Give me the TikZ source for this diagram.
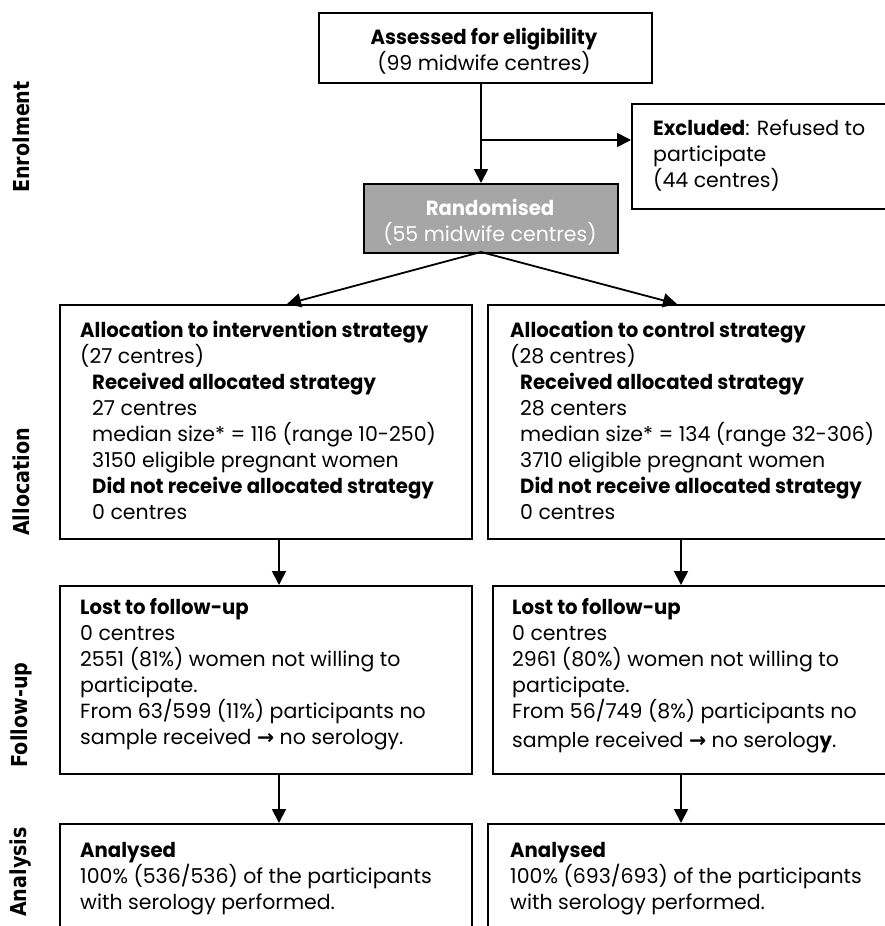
\documentclass[tikz,border=0pt]{standalone}
\usepackage{fontspec}
\setmainfont{Poppins}[BoldFeatures={FakeStretch=0.96}]
\newfontfamily\sidefont{DejaVu Sans}[FakeStretch=0.87]
\newfontfamily\symfont{DejaVu Sans}
\usetikzlibrary{arrows.meta}
\definecolor{randgray}{HTML}{A6A6A6}
\newcommand{\fstrut}{\rule{0pt}{18pt}}
\tikzset{
  boxline/.style={draw=black, line width=1.8pt, anchor=north west, inner sep=0pt},
  txt/.style={anchor=north west, inner sep=0pt, align=left, font=\fontsize{20.5}{26}\selectfont},
  ctxt/.style={anchor=north, inner sep=0pt, align=center, font=\fontsize{20.5}{26}\selectfont},
  arr/.style={line width=1.8pt, -{Triangle[length=14pt,width=14pt]}},
  side/.style={rotate=90, inner sep=0pt, font=\sidefont\bfseries\fontsize{22}{24}\selectfont}
}
\begin{document}
\begin{tikzpicture}[x=1pt,y=-1pt]
\useasboundingbox (0,0) rectangle (885,926);
\clip (0,0) rectangle (885,926);
% boxes
\node[boxline, minimum width=333pt, minimum height=70pt] (assess) at (318,12) {};
\node[boxline, minimum width=270pt, minimum height=105pt] (excl) at (631,103) {};
\node[boxline, fill=randgray, minimum width=254pt, minimum height=69pt] (rand) at (363,183) {};
\node[boxline, minimum width=412pt, minimum height=234pt] (allocL) at (59,304) {};
\node[boxline, minimum width=420pt, minimum height=234pt] (allocR) at (487,304) {};
\node[boxline, minimum width=412pt, minimum height=188pt] (fuL) at (59,585) {};
\node[boxline, minimum width=420pt, minimum height=188pt] (fuR) at (492,585) {};
\node[boxline, minimum width=412pt, minimum height=140pt] (anL) at (59,823) {};
\node[boxline, minimum width=420pt, minimum height=140pt] (anR) at (487,823) {};
% texts (node y = first baseline - 18)
\node[ctxt] (tassess) at (484,26) {\fstrut\textbf{Assessed for eligibility}\\(99 midwife centres)};
\node[txt] (texcl) at (653,117) {\fstrut\textbf{Excluded}: Refused to\\participate\\(44 centres)};
\node[ctxt, text=white] (trand) at (490,197) {\fstrut\textbf{Randomised}\\(55 midwife centres)};
\node[txt] (tallocL) at (80,319) {\fstrut\textbf{Allocation to intervention strategy}\\(27 centres)\\
  \hspace{12pt}\textbf{Received allocated strategy}\\\hspace{12pt}27 centres\\
  \hspace{12pt}median size* = 116 (range 10-250)\\\hspace{12pt}3150 eligible pregnant women\\
  \hspace{12pt}\textbf{Did not receive allocated strategy}\\\hspace{12pt}0 centres};
\node[txt] (tallocR) at (510,319) {\fstrut\textbf{Allocation to control strategy}\\(28 centres)\\
  \hspace{10pt}\textbf{Received allocated strategy}\\\hspace{10pt}28 centers\\
  \hspace{10pt}median size* = 134 (range 32-306)\\\hspace{10pt}3710 eligible pregnant women\\
  \hspace{10pt}\textbf{Did not receive allocated strategy}\\\hspace{10pt}0 centres};
\node[txt] (tfuL) at (80,596) {\fstrut\textbf{Lost to follow-up}\\0 centres\\2551 (81\%) women not willing to\\participate.\\From 63/599 (11\%) participants no\\sample received {\symfont\bfseries →} no serology.};
\node[txt] (tfuR) at (512,596) {\fstrut\textbf{Lost to follow-up}\\0 centres\\2961 (80\%) women not willing to\\participate.\\From 56/749 (8\%) participants no\\[3pt]sample received {\symfont\bfseries →} no serolog\textbf{y}.};
\node[txt] (tanL) at (80,839) {\fstrut\textbf{Analysed}\\100\% (536/536) of the participants\\with serology performed.};
\node[txt] (tanR) at (510,839) {\fstrut\textbf{Analysed}\\100\% (693/693) of the participants\\with serology performed.};
% side labels
\node[side] (senrol) at (21,137) {Enrolment};
\node[side] (salloc) at (21,482) {Allocation};
\node[side] (sfu) at (21,715) {Follow-up};
\node[side] (san) at (21,872) {Analysis};
% connectors
\coordinate (assessB) at (481,82);
\coordinate (split) at (481,140);
\coordinate (randT) at (481,183);
\coordinate (randB) at (481,252);
\coordinate (aLT) at (287,304);
\coordinate (aRT) at (677,304);
\draw[arr] (assessB) -- (randT);
\draw[arr] (split) -- (excl.west |- split);
\draw[arr] (randB) -- (aLT);
\draw[arr] (randB) -- (aRT);
\draw[arr] (allocL.south -| 279,0) -- (fuL.north -| 279,0);
\draw[arr] (allocR.south -| 681,0) -- (fuR.north -| 681,0);
\draw[arr] (fuL.south -| 279,0) -- (anL.north -| 279,0);
\draw[arr] (fuR.south -| 681,0) -- (anR.north -| 681,0);
\end{tikzpicture}
\end{document}
